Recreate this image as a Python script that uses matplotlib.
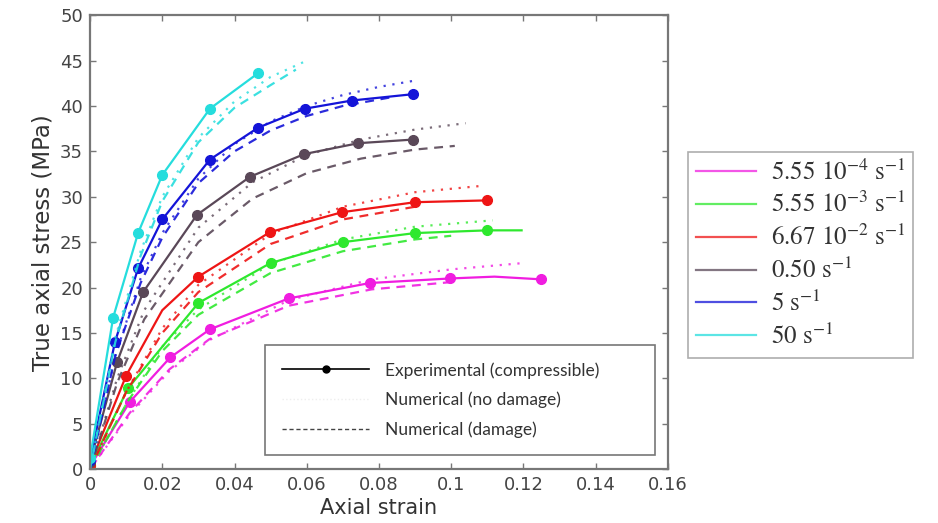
import matplotlib
matplotlib.use("Agg")
import matplotlib.pyplot as plt
from matplotlib.lines import Line2D

# strain-rate labels and colours
rates = [r"5.55 $10^{-4}$ $\mathregular{s}^{-1}$",
         r"5.55 $10^{-3}$ $\mathregular{s}^{-1}$",
         r"6.67 $10^{-2}$ $\mathregular{s}^{-1}$",
         r"0.50 $\mathregular{s}^{-1}$",
         r"5 $\mathregular{s}^{-1}$",
         r"50 $\mathregular{s}^{-1}$"]
colors = ["#f01de0", "#2ee82e", "#ee1515", "#5a4858", "#1414d8", "#25dddd"]

# experimental (compressible) curves
exp_strain = [
    [0, 0.011, 0.0222, 0.0332, 0.055, 0.0775, 0.0997, 0.112, 0.125],
    [0, 0.0105, 0.030, 0.050, 0.070, 0.090, 0.110, 0.1195],
    [0, 0.010, 0.020, 0.030, 0.0498, 0.0698, 0.090, 0.110],
    [0, 0.0075, 0.0147, 0.0296, 0.0443, 0.0593, 0.0743, 0.0895],
    [0, 0.0069, 0.0133, 0.020, 0.0332, 0.0465, 0.0595, 0.0725, 0.0895],
    [0, 0.0064, 0.0133, 0.020, 0.0332, 0.0465],
]
exp_stress = [
    [0.3, 7.4, 12.3, 15.4, 18.8, 20.5, 21.0, 21.2, 20.9],
    [0.3, 8.9, 18.3, 22.7, 25.0, 26.0, 26.3, 26.3],
    [0.5, 10.3, 17.5, 21.2, 26.1, 28.3, 29.4, 29.6],
    [0.8, 11.8, 19.5, 28.0, 32.2, 34.7, 35.9, 36.3],
    [1.0, 14.0, 22.1, 27.5, 34.1, 37.6, 39.7, 40.6, 41.3],
    [1.2, 16.7, 26.0, 32.4, 39.7, 43.6],
]
# which points of each experimental curve carry a marker
exp_marks = [
    [0, 1, 2, 3, 4, 5, 6, 8],
    [0, 1, 2, 3, 4, 5, 6],
    [0, 1, 3, 4, 5, 6, 7],
    [0, 1, 2, 3, 4, 5, 6, 7],
    [0, 1, 2, 3, 4, 5, 6, 7, 8],
    [0, 1, 2, 3, 4, 5],
]

# numerical, no damage (dotted)
nd_strain = [
    [0, 0.011, 0.022, 0.033, 0.055, 0.078, 0.100, 0.120],
    [0, 0.0105, 0.020, 0.030, 0.050, 0.070, 0.090, 0.1115],
    [0, 0.010, 0.020, 0.030, 0.050, 0.070, 0.090, 0.1085],
    [0, 0.0075, 0.015, 0.030, 0.045, 0.060, 0.075, 0.090, 0.104],
    [0, 0.007, 0.014, 0.020, 0.030, 0.040, 0.050, 0.060, 0.070, 0.080, 0.090],
    [0, 0.007, 0.014, 0.020, 0.030, 0.040, 0.050, 0.0595],
]
nd_stress = [
    [0, 6.0, 10.8, 14.2, 18.6, 20.9, 22.0, 22.7],
    [0, 7.5, 13.5, 17.6, 22.6, 25.3, 26.7, 27.4],
    [0, 8.5, 15.5, 20.3, 25.9, 28.9, 30.5, 31.2],
    [0, 10.0, 17.5, 26.6, 31.6, 34.6, 36.3, 37.4, 38.1],
    [0, 12.5, 21.0, 26.0, 32.0, 35.8, 38.3, 40.0, 41.2, 42.1, 42.8],
    [0, 14.5, 24.0, 30.0, 36.5, 40.5, 43.2, 44.9],
]

# numerical, damage (dashed)
dm_strain = [
    [0, 0.011, 0.022, 0.033, 0.055, 0.078, 0.100],
    [0, 0.0105, 0.020, 0.030, 0.050, 0.070, 0.090, 0.100],
    [0, 0.010, 0.020, 0.030, 0.050, 0.070, 0.090],
    [0, 0.0075, 0.015, 0.030, 0.045, 0.060, 0.075, 0.090, 0.101],
    [0, 0.007, 0.014, 0.020, 0.030, 0.040, 0.050, 0.060, 0.070, 0.084],
    [0, 0.007, 0.014, 0.020, 0.030, 0.040, 0.050, 0.057],
]
dm_stress = [
    [0, 6.2, 11.0, 14.3, 18.0, 19.8, 20.6],
    [0, 7.5, 13.0, 17.0, 21.6, 24.0, 25.3, 25.7],
    [0, 8.5, 15.0, 19.5, 24.8, 27.5, 28.9],
    [0, 9.5, 16.5, 25.0, 29.8, 32.6, 34.2, 35.2, 35.6],
    [0, 12.5, 20.5, 25.5, 31.5, 35.0, 37.3, 38.9, 40.0, 41.0],
    [0, 14.0, 23.5, 29.5, 36.0, 39.8, 42.3, 44.0],
]

x_ticks = [0, 0.02, 0.04, 0.06, 0.08, 0.1, 0.12, 0.14, 0.16]
x_tick_labels = ["0", "0.02", "0.04", "0.06", "0.08", "0.1", "0.12", "0.14", "0.16"]
y_ticks = list(range(0, 51, 5))

plt.rcParams["mathtext.fontset"] = "stix"

fig = plt.figure(figsize=(9.38, 5.23), dpi=100)
ax = fig.add_axes([0.096, 0.103, 0.616, 0.868])

for i in range(len(rates)):
    c = colors[i]
    ax.plot(nd_strain[i], nd_stress[i], ls=(0, (1, 3)), color=c, lw=1.6, alpha=0.8)
    ax.plot(dm_strain[i], dm_stress[i], ls=(0, (4, 3)), color=c, lw=1.6, alpha=0.9)
    ax.plot(exp_strain[i], exp_stress[i], "-", color=c, lw=1.6,
            marker="o", ms=7, markevery=exp_marks[i])

ax.set_xlim(0, 0.16)
ax.set_ylim(0, 50)
ax.set_xticks(x_ticks)
ax.set_xticklabels(x_tick_labels)
ax.set_yticks(y_ticks)
ax.tick_params(direction="in", top=True, right=True, length=4, width=1,
               colors="#777777", labelcolor="#444444", labelsize=13, pad=5)
for s in ax.spines.values():
    s.set_color("#777777")
    s.set_linewidth(1.6)

ax.set_xlabel("Axial strain", fontsize=15, color="#333333", labelpad=3)
ax.set_ylabel("True axial stress (MPa)", fontsize=16.5, color="#333333", labelpad=4)

# inner legend: line styles
style_handles = [
    Line2D([], [], color="black", lw=1.2, marker="o", ms=5),
    Line2D([], [], color="#eeeeee", lw=1.0, ls=":"),
    Line2D([], [], color="#444444", lw=1.0, ls=(0, (3, 2))),
]
style_labels = ["Experimental (compressible)", "Numerical (no damage)",
                "Numerical (damage)"]
leg1 = ax.legend(style_handles, style_labels, loc="lower left",
                 bbox_to_anchor=(0.303, 0.031, 0.674, 0.25), mode="expand",
                 borderaxespad=0,
                 prop={"family": "Lato", "size": 12.5}, handlelength=5.0,
                 handletextpad=0.9, labelspacing=0.75, borderpad=1.0,
                 frameon=True, fancybox=False, edgecolor="#555555",
                 labelcolor="#333333")
leg1.get_frame().set_linewidth(1.2)

# outer legend: strain rates
rate_handles = [Line2D([], [], color=c, lw=1.6, alpha=0.75) for c in colors]
leg2 = fig.legend(rate_handles, rates, loc="upper left",
                  bbox_to_anchor=(0.733, 0.709), borderaxespad=0,
                  prop={"family": "STIXGeneral", "size": 18},
                  handlelength=2.4, handletextpad=0.6, labelspacing=0.3,
                  borderpad=0.32, frameon=True, fancybox=False,
                  edgecolor="#999999", labelcolor="#333333")
leg2.get_frame().set_linewidth(1.2)

fig.savefig("out.png", dpi=100)
plt.close(fig)
